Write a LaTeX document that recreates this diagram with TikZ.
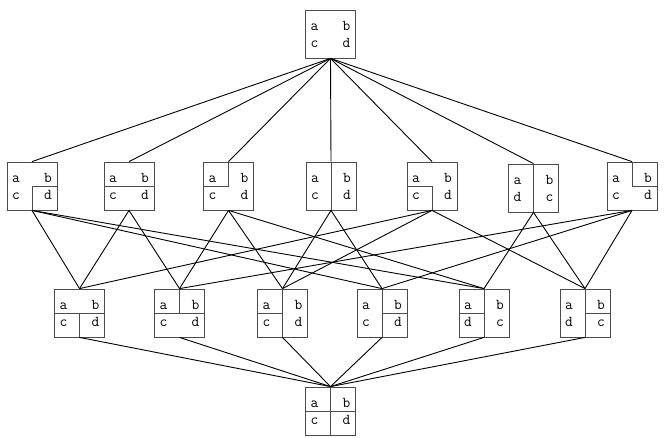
\documentclass[tikz,border=0pt]{standalone}
\usetikzlibrary{calc,positioning}
\tikzset{
  cell/.style = {draw=black!70, line width=0.8pt, minimum width=50pt,
                 minimum height=48pt, inner sep=0pt},
  cut/.style  = {draw=black!70, line width=0.8pt},
  ltr/.style  = {font=\ttfamily\fontsize{15}{16}\selectfont, inner sep=0pt,
                 anchor=base},
  link/.style = {line width=0.9pt, color=black},
}
% one partition cell. #1 name, #2 x, #3 y, #4..#7 letters tl tr bl br
\newcommand{\pcell}[7]{%
  \node[cell] (#1) at (#2,#3) {};
  \node[ltr] (#1-tl) at ($(#1.center)+(-16,-3.5)$) {#4};
  \node[ltr] (#1-tr) at ($(#1.center)+(16,-3.5)$) {#5};
  \node[ltr] (#1-bl) at ($(#1.center)+(-16,13.5)$) {#6};
  \node[ltr] (#1-br) at ($(#1.center)+(16,13.5)$) {#7};}

\begin{document}
\begin{tikzpicture}[x=1pt, y=-1pt]
\useasboundingbox (0,0) rectangle (664,437);

% ---------------- one block ----------------
\pcell{abcd}{330.5}{34}{a}{b}{c}{d}

% ---------------- two blocks ---------------
\pcell{abc-d}{32}{186}{a}{b}{c}{d}
\pcell{ab-cd}{129}{186}{a}{b}{c}{d}
\pcell{a-bcd}{228.5}{186}{a}{b}{c}{d}
\pcell{ac-bd}{331}{186}{a}{b}{c}{d}
\pcell{abd-c}{432}{186}{a}{b}{c}{d}
\pcell{ad-bc}{533.5}{188}{a}{b}{d}{c}
\pcell{acd-b}{632}{186}{a}{b}{c}{d}

\draw[cut] (abc-d.south) -- (abc-d.center) -- (abc-d.east);
\draw[cut] (ab-cd.west) -- (ab-cd.east);
\draw[cut] (a-bcd.north) -- (a-bcd.center) -- (a-bcd.west);
\draw[cut] (ac-bd.north) -- (ac-bd.south);
\draw[cut] (abd-c.west) -- (abd-c.center) -- (abd-c.south);
\draw[cut] (ad-bc.north) -- (ad-bc.south);
\draw[cut] (acd-b.north) -- (acd-b.center) -- (acd-b.east);

% ---------------- three blocks -------------
\pcell{ab-c-d}{79.5}{313}{a}{b}{c}{d}
\pcell{a-b-cd}{179.5}{313}{a}{b}{c}{d}
\pcell{a-c-bd}{282.5}{313}{a}{b}{c}{d}
\pcell{ac-b-d}{382}{313}{a}{b}{c}{d}
\pcell{a-d-bc}{484}{313}{a}{b}{d}{c}
\pcell{ad-b-c}{585}{313}{a}{b}{d}{c}

\draw[cut] (ab-c-d.west) -- (ab-c-d.east);
\draw[cut] (ab-c-d.center) -- (ab-c-d.south);
\draw[cut] (a-b-cd.west) -- (a-b-cd.east);
\draw[cut] (a-b-cd.north) -- (a-b-cd.center);
\draw[cut] (a-c-bd.north) -- (a-c-bd.south);
\draw[cut] (a-c-bd.west) -- (a-c-bd.center);
\draw[cut] (ac-b-d.north) -- (ac-b-d.south);
\draw[cut] (ac-b-d.center) -- (ac-b-d.east);
\draw[cut] (a-d-bc.north) -- (a-d-bc.south);
\draw[cut] (a-d-bc.west) -- (a-d-bc.center);
\draw[cut] (ad-b-c.north) -- (ad-b-c.south);
\draw[cut] (ad-b-c.center) -- (ad-b-c.east);

% ---------------- four blocks --------------
\pcell{a-b-c-d}{330.5}{411}{a}{b}{c}{d}
\draw[cut] (a-b-c-d.north) -- (a-b-c-d.south);
\draw[cut] (a-b-c-d.west) -- (a-b-c-d.east);

% ---------------- covering relation --------
\foreach \lo in {abc-d,ab-cd,a-bcd,ac-bd,abd-c,ad-bc,acd-b}
  \draw[link] (abcd.south) -- (\lo.north);
\foreach \up/\lo in {abc-d/ab-c-d, abc-d/ac-b-d, abc-d/a-d-bc,
                     ab-cd/ab-c-d, ab-cd/a-b-cd,
                     a-bcd/a-b-cd, a-bcd/a-c-bd, a-bcd/a-d-bc,
                     ac-bd/a-c-bd, ac-bd/ac-b-d,
                     abd-c/ab-c-d, abd-c/a-c-bd, abd-c/ad-b-c,
                     ad-bc/a-d-bc, ad-bc/ad-b-c,
                     acd-b/a-b-cd, acd-b/ac-b-d, acd-b/ad-b-c}
  \draw[link] (\up.south) -- (\lo.north);
\foreach \up in {ab-c-d,a-b-cd,a-c-bd,ac-b-d,a-d-bc,ad-b-c}
  \draw[link] (\up.south) -- (a-b-c-d.north);

\end{tikzpicture}
\end{document}
